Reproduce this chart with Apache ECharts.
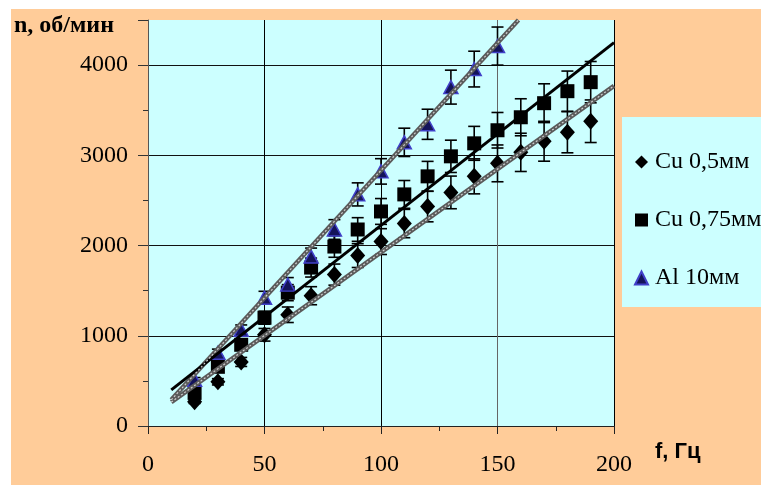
<!DOCTYPE html>
<html>
	<head>
		<meta charset="utf-8">
		<title>n(f)</title>
		<script src="https://cdn.jsdelivr.net/npm/echarts@6/dist/echarts.min.js"></script>
		<style>
			body{margin:0;background:#fff;width:761px;height:485px;overflow:hidden;position:relative;}
			#main{position:absolute;left:11px;top:9px;width:750px;height:476px;background:#ffcc99;}
		</style>
	</head>
	<body>
		<div id="main"></div>
	</body>
	<script>
		// частоты, Гц
		var freq = [20, 30, 40, 50, 60, 70, 80, 90, 100, 110, 120, 130, 140, 150, 160, 170, 180, 190];
		var freqAl = [20, 30, 40, 50, 60, 70, 80, 90, 100, 110, 120, 130, 140, 150];
		// обороты, об/мин
		var nCu05 = [270, 490, 710, 1011, 1233, 1444, 1678, 1889, 2044, 2244, 2433, 2589, 2767, 2911, 3033, 3156, 3256, 3378];
		var errCu05 = [20, 35, 50, 70, 86, 100, 117, 132, 143, 157, 170, 181, 194, 204, 212, 221, 228, 236];
		var nCu075 = [367, 656, 900, 1200, 1478, 1756, 1989, 2178, 2378, 2567, 2767, 2989, 3133, 3278, 3422, 3578, 3711, 3811];
		var errCu075 = [22, 39, 54, 72, 89, 105, 119, 131, 143, 154, 166, 179, 188, 197, 205, 215, 223, 229];
		var nAl = [511, 811, 1067, 1422, 1567, 1878, 2178, 2567, 2822, 3144, 3344, 3756, 3956, 4211];
		var errAl = [26, 41, 53, 71, 78, 94, 109, 128, 141, 157, 167, 188, 198, 211];
		// линии тренда
		var fitCu05 = [[10, 265], [200, 3770]];
		var fitCu075 = [[10, 400], [200, 4250]];
		var fitAl = [[10, 290], [159, 4500]];
		var names = ['Cu 0,5мм', 'Cu 0,75мм', 'Al 10мм'];

		var font = 'Liberation Serif';

		function pts(xs, ys){
			var arr = [];
			for(var i=0;i<ys.length;i++){ arr.push([xs[i], ys[i]]) }
			return arr
		}
		function errs(xs, ys, es){
			var arr = [];
			for(var i=0;i<ys.length;i++){ arr.push([xs[i], ys[i]-es[i], ys[i]+es[i]]) }
			return arr
		}
		function renderErr(params, api){
			var x = api.value(0);
			var top = api.coord([x, api.value(2)]);
			var bot = api.coord([x, api.value(1)]);
			var w = 6;
			var st = {stroke:'#000', lineWidth:1.6};
			return {type:'group', children:[
				{type:'line', shape:{x1:top[0], y1:top[1], x2:bot[0], y2:bot[1]}, style:st},
				{type:'line', shape:{x1:top[0]-w, y1:top[1], x2:top[0]+w, y2:top[1]}, style:st},
				{type:'line', shape:{x1:bot[0]-w, y1:bot[1], x2:bot[0]+w, y2:bot[1]}, style:st}
			]}
		}
		function errSeries(data){
			return {type:'custom', renderItem:renderErr, data:data, encode:{x:0, y:[1,2]}, z:3, silent:true}
		}
		function hatched(data){
			return [
				{type:'line', data:data, symbol:'none', lineStyle:{color:'#5a5a5a', width:4.5}, z:5, silent:true},
				{type:'line', data:data, symbol:'none', lineStyle:{color:'#d0d0d0', width:1.2, type:[2,2]}, z:6, silent:true}
			]
		}

		var myChart = echarts.init(document.getElementById('main'));
		var option = {
			animation:false,
			grid:{left:137, top:11, width:466, height:406, show:true, backgroundColor:'#ccffff', borderWidth:0},
			xAxis:{
				type:'value', min:0, max:200, interval:50,
				axisLine:{show:true, onZero:false, lineStyle:{color:'#222', width:1}},
				axisTick:{show:true, length:8, lineStyle:{color:'#222'}},
				minorTick:{show:true, splitNumber:2, length:5, lineStyle:{color:'#222'}},
				axisLabel:{fontFamily:font, fontSize:24, color:'#000', margin:27},
				splitLine:{show:true, showMinLine:false, lineStyle:{color:['#000','#000','#666','#000','#444'], width:1}}
			},
			yAxis:{
				type:'value', min:0, max:4500, interval:1000,
				axisLine:{show:true, onZero:false, lineStyle:{color:'#555', width:1}},
				axisTick:{show:true, length:10, lineStyle:{color:'#333'}},
				minorTick:{show:true, splitNumber:2, length:5, lineStyle:{color:'#333'}},
				axisLabel:{fontFamily:font, fontSize:24, color:'#000', margin:20,
					formatter:function(v){ return v>4000 ? '' : v }},
				splitLine:{show:true, showMinLine:false, showMaxLine:false, lineStyle:{color:'#111', width:1}}
			},
			legend:{
				data:names, orient:'vertical', left:611, top:108,
				backgroundColor:'#ccffff', borderWidth:0,
				padding:[33, 40, 17, 12], itemGap:34, itemWidth:13, itemHeight:13,
				textStyle:{fontFamily:font, fontSize:24, color:'#000', padding:[0,0,0,2]}
			},
			graphic:[
				{type:'text', left:3, top:5, style:{text:'n, об/мин', font:'bold 24px "Liberation Serif"', fill:'#000'}},
				{type:'text', left:644, top:432, style:{text:'f, Гц', font:'bold 22px "Liberation Sans"', fill:'#000'}}
			],
			series:[
				errSeries(errs(freq, nCu05, errCu05)),
				errSeries(errs(freq, nCu075, errCu075)),
				errSeries(errs(freqAl, nAl, errAl)),
				{name:names[0], type:'scatter', data:pts(freq, nCu05), symbol:'diamond', symbolSize:[15,17],
					itemStyle:{color:'#000', opacity:1}, z:4},
				{name:names[1], type:'scatter', data:pts(freq, nCu075), symbol:'rect', symbolSize:14,
					itemStyle:{color:'#000', opacity:1}, z:4},
				{name:names[2], type:'scatter', data:pts(freqAl, nAl), symbol:'triangle', symbolSize:[14,13],
					itemStyle:{color:'#14145a', borderColor:'#4040c8', borderWidth:1.5, opacity:1}, z:4}
			].concat(hatched(fitCu05), hatched(fitAl), [
				{type:'line', data:fitCu075, symbol:'none', lineStyle:{color:'#000', width:3}, z:5, silent:true}
			])
		};
		myChart.setOption(option);
	</script>
</html>
